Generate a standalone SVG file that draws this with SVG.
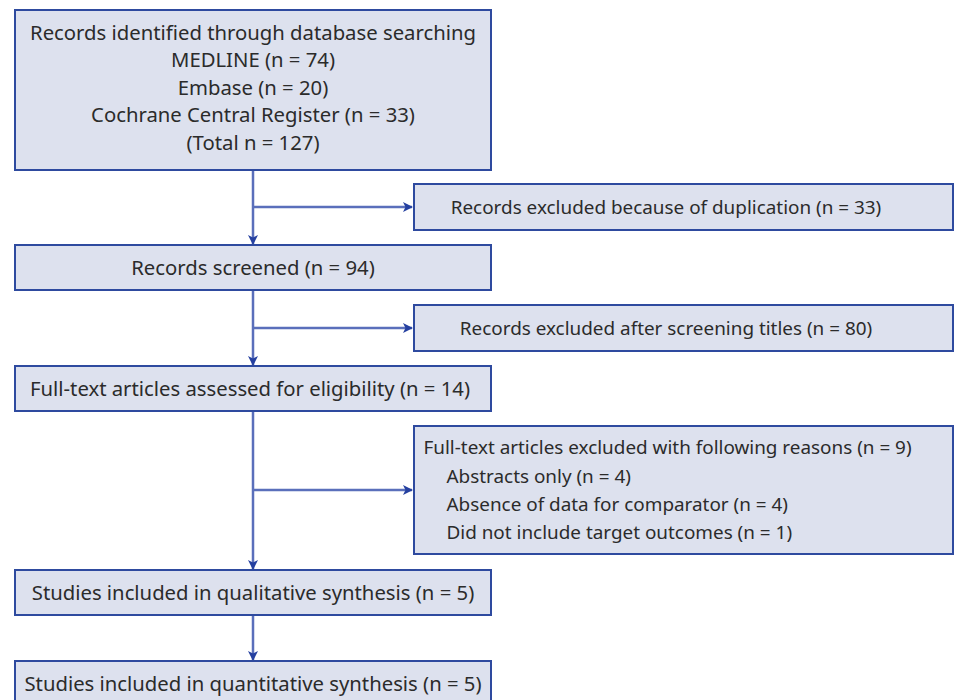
<svg xmlns="http://www.w3.org/2000/svg" width="968" height="700" viewBox="0 0 968 700">
<style>
.box{fill:#dde1ee;stroke:#2e4a9f;stroke-width:2}
text{font-family:"Noto Sans","Open Sans",sans-serif;font-size:20.3px;fill:#2b2b2b}
.r text{font-size:18.9px}
.c{text-anchor:middle}
.ln{stroke:#5a6fbb;stroke-width:2.5;fill:none}
</style>
<defs>
<marker id="ah" markerWidth="10" markerHeight="10" refX="9" refY="5" orient="auto" markerUnits="userSpaceOnUse">
<path d="M0,0 L10,5 L0,10 L2.5,5 Z" fill="#2540a0"/>
</marker>
</defs>
<rect width="968" height="700" fill="#fff"/>
<g id="connectors">
<line class="ln" x1="253" y1="170" x2="253" y2="244" marker-end="url(#ah)"/>
<line class="ln" x1="253" y1="207" x2="412" y2="207" marker-end="url(#ah)"/>
<line class="ln" x1="253" y1="290" x2="253" y2="365" marker-end="url(#ah)"/>
<line class="ln" x1="253" y1="328" x2="412" y2="328" marker-end="url(#ah)"/>
<line class="ln" x1="253" y1="411" x2="253" y2="569" marker-end="url(#ah)"/>
<line class="ln" x1="253" y1="490" x2="412" y2="490" marker-end="url(#ah)"/>
<line class="ln" x1="253" y1="615" x2="253" y2="660" marker-end="url(#ah)"/>
</g>
<g id="n1">
<rect class="box" x="15" y="10" width="476" height="160"/>
<text class="c" x="253" y="39.5">Records identified through database searching</text>
<text class="c" x="253" y="67">MEDLINE (n = 74)</text>
<text class="c" x="253" y="94.5">Embase (n = 20)</text>
<text class="c" x="253" y="122">Cochrane Central Register (n = 33)</text>
<text class="c" x="253" y="149.5">(Total n = 127)</text>
</g>
<g id="x1" class="r">
<rect class="box" x="414" y="184" width="539" height="46"/>
<text class="c" x="666" y="213.5">Records excluded because of duplication (n = 33)</text>
</g>
<g id="n2">
<rect class="box" x="15" y="245" width="476" height="45"/>
<text class="c" x="253" y="274.5">Records screened (n = 94)</text>
</g>
<g id="x2" class="r">
<rect class="box" x="414" y="305" width="539" height="46"/>
<text class="c" x="666" y="334.5">Records excluded after screening titles (n = 80)</text>
</g>
<g id="n3">
<rect class="box" x="15" y="366" width="476" height="45"/>
<text x="30" y="395.5">Full-text articles assessed for eligibility (n = 14)</text>
</g>
<g id="x3" class="r">
<rect class="box" x="414" y="426" width="539" height="128"/>
<text x="423.5" y="453.5">Full-text articles excluded with following reasons (n = 9)</text>
<text x="446.5" y="482.5">Abstracts only (n = 4)</text>
<text x="446.5" y="510.5">Absence of data for comparator (n = 4)</text>
<text x="446.5" y="539">Did not include target outcomes (n = 1)</text>
</g>
<g id="n4">
<rect class="box" x="15" y="570" width="476" height="45"/>
<text class="c" x="253" y="599.5">Studies included in qualitative synthesis (n = 5)</text>
</g>
<g id="n5">
<rect class="box" x="15" y="661" width="476" height="45"/>
<text class="c" x="253" y="690.5">Studies included in quantitative synthesis (n = 5)</text>
</g>
</svg>
